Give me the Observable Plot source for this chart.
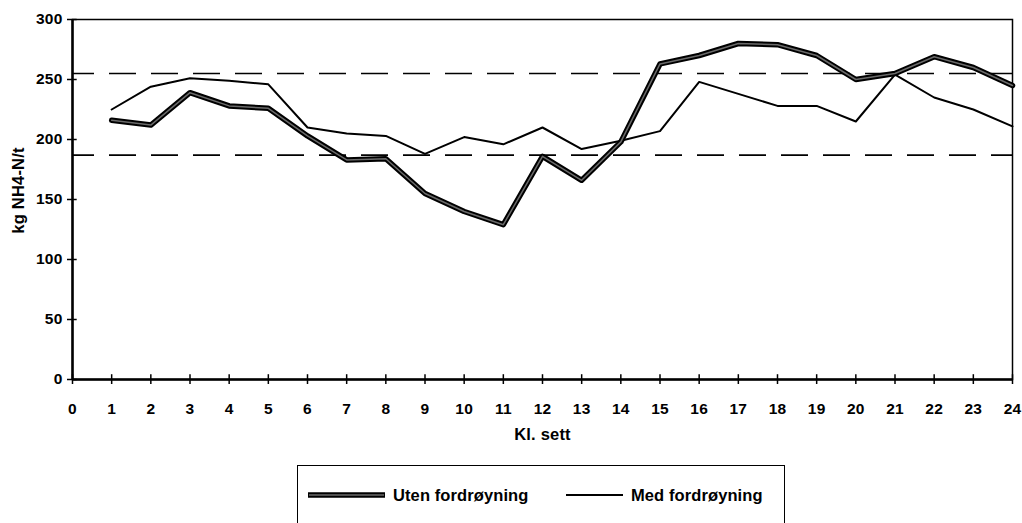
<!DOCTYPE html>
<html>
<head>
<meta charset="utf-8">
<script src="https://cdn.jsdelivr.net/npm/d3@7"></script>
<script src="https://cdn.jsdelivr.net/npm/@observablehq/plot@0.6"></script>
<style>
  html, body { margin: 0; padding: 0; background: white; }
  body { width: 1022px; height: 523px; overflow: hidden; position: relative; font-family: "Liberation Sans", Arial, sans-serif; }
  #chart { position: absolute; left: 0; top: 0; }
  #chart svg text { letter-spacing: 0.2px; }
  #legend { position: absolute; left: 297px; top: 465px; width: 488px; height: 80px; border: 1.5px solid black; box-sizing: border-box; }
  .item { position: absolute; top: 19px; display: flex; align-items: center; font-size: 16.5px; font-weight: bold; letter-spacing: 0.1px; }
  .item svg { margin-right: 8px; }
</style>
</head>
<body>
<div id="chart"></div>
<div id="legend"></div>
<script>
// ---- data ----
const hours = [1,2,3,4,5,6,7,8,9,10,11,12,13,14,15,16,17,18,19,20,21,22,23,24];
const utenFordroyning = [216,212,239,228,226,203,183,184,155,140,129,186,166,198,263,270,280,279,270,250,255,269,260,245];
const medFordroyning  = [225,244,251,249,246,210,205,203,188,202,196,210,192,199,207,248,238,228,228,215,254,235,225,211];
const limits = [255, 187];
const xTicks = [0,1,2,3,4,5,6,7,8,9,10,11,12,13,14,15,16,17,18,19,20,21,22,23,24];
const yTicks = [0,50,100,150,200,250,300];
const seriesNames = ["Uten fordrøyning", "Med fordrøyning"];
const xTitle = "Kl. sett";
const yTitle = "kg NH4-N/t";

const utenRows = hours.map((h, i) => ({h, v: utenFordroyning[i]}));
const medRows = hours.map((h, i) => ({h, v: medFordroyning[i]}));

const chart = Plot.plot({
  width: 1022,
  height: 450,
  marginLeft: 72,
  marginRight: 10,
  marginTop: 19,
  marginBottom: 71,
  x: {domain: [0, 24]},
  y: {domain: [0, 300]},
  style: {fontFamily: "'Liberation Sans', Arial, sans-serif", fontSize: "15.5px", fontWeight: "bold", color: "black", background: "white"},
  marks: [
    Plot.ruleY(limits, {stroke: "black", strokeWidth: 1.6, strokeDasharray: "27,15", strokeDashoffset: 5}),
    Plot.frame({stroke: "black", strokeWidth: 1.5}),
    Plot.ruleX([0], {stroke: "black", strokeWidth: 2.5}),
    Plot.ruleY([0], {stroke: "black", strokeWidth: 2.5}),
    Plot.line(medRows, {x: "h", y: "v", stroke: "black", strokeWidth: 2}),
    Plot.line(utenRows, {x: "h", y: "v", stroke: "black", strokeWidth: 5.5}),
    Plot.line(utenRows, {x: "h", y: "v", stroke: "#6a6a6a", strokeWidth: 1.5}),
    Plot.ruleX(xTicks, {y1: 0, y2: 4, stroke: "black", strokeWidth: 1.5}),
    Plot.ruleY(yTicks, {x1: 0, x2: 0.12, stroke: "black", strokeWidth: 1.5}),
    Plot.axisX(xTicks, {tickSize: 5, tickPadding: 18, label: null, strokeWidth: 1.5, fontWeight: "bold"}),
    Plot.axisY(yTicks, {tickSize: 5, tickPadding: 5, label: null, strokeWidth: 1.5, fontWeight: "bold"}),
    Plot.text([xTitle], {frameAnchor: "bottom", dy: 60, fontSize: 16.5, fontWeight: "bold"}),
    Plot.text([yTitle], {frameAnchor: "left", dx: -54, dy: -9, rotate: -90, textAnchor: "middle", fontSize: 16.5, fontWeight: "bold"})
  ]
});
document.getElementById("chart").appendChild(chart);

// ---- legend ----
const legend = document.getElementById("legend");
const items = [
  {name: seriesNames[0], left: 10, len: 77, thick: true},
  {name: seriesNames[1], left: 268, len: 57, thick: false}
];
for (const it of items) {
  const div = document.createElement("div");
  div.className = "item";
  div.style.left = it.left + "px";
  const s = d3.create("svg").attr("width", it.len).attr("height", 20);
  if (it.thick) {
    s.append("line").attr("x1", 0).attr("x2", it.len).attr("y1", 10).attr("y2", 10).attr("stroke", "black").attr("stroke-width", 5.5);
    s.append("line").attr("x1", 1).attr("x2", it.len - 1).attr("y1", 10).attr("y2", 10).attr("stroke", "#6a6a6a").attr("stroke-width", 1.5);
  } else {
    s.append("line").attr("x1", 0).attr("x2", it.len).attr("y1", 10).attr("y2", 10).attr("stroke", "black").attr("stroke-width", 2);
  }
  div.appendChild(s.node());
  const span = document.createElement("span");
  span.textContent = it.name;
  div.appendChild(span);
  legend.appendChild(div);
}
</script>
</body>
</html>
